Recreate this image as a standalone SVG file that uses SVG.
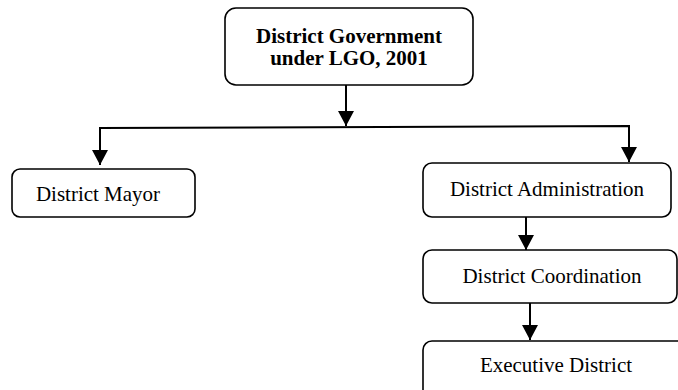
<svg xmlns="http://www.w3.org/2000/svg" width="678" height="390" viewBox="0 0 678 390">
<style>
.box{fill:#fff;stroke:#000;stroke-width:1.6}
.t{font-family:"Liberation Serif","Times New Roman",serif;font-size:21px;fill:#000;text-anchor:middle}
.b{font-weight:bold}
.c{fill:none;stroke:#000;stroke-width:2}
</style>
<defs>
<marker id="ah" markerUnits="userSpaceOnUse" markerWidth="15" markerHeight="16" refX="15" refY="8" orient="auto" viewBox="0 0 15 16">
<path d="M0,0 L15,8 L0,16 z" fill="#000"/>
</marker>
</defs>
<rect width="678" height="390" fill="#fff"/>
<g id="connectors">
<line class="c" x1="346" y1="85" x2="346" y2="126" marker-end="url(#ah)"/>
<polyline class="c" points="100,165 100,128 629,126 629,162" fill="none"/>
<line class="c" x1="100" y1="128" x2="100" y2="165" marker-end="url(#ah)"/>
<line class="c" x1="629" y1="126" x2="629" y2="162" marker-end="url(#ah)"/>
<line class="c" x1="526" y1="217" x2="526" y2="250" marker-end="url(#ah)"/>
<line class="c" x1="530" y1="303" x2="530" y2="340" marker-end="url(#ah)"/>
</g>
<g id="district-government">
<rect class="box" x="225" y="8" width="248" height="77" rx="11"/>
<text class="t b" x="349" y="43">District Government</text>
<text class="t b" x="349" y="65">under LGO, 2001</text>
</g>
<g id="district-mayor">
<rect class="box" x="12" y="169" width="183" height="48" rx="8"/>
<text class="t" x="98" y="201">District Mayor</text>
</g>
<g id="district-administration">
<rect class="box" x="423" y="163" width="248" height="54" rx="9"/>
<text class="t" x="547" y="196">District Administration</text>
</g>
<g id="district-coordination">
<rect class="box" x="423" y="250" width="254" height="53" rx="9"/>
<text class="t" x="552" y="283">District Coordination</text>
</g>
<g id="executive-district">
<rect class="box" x="423" y="341" width="265" height="60" rx="9"/>
<text class="t" x="556" y="372">Executive District</text>
</g>
</svg>
